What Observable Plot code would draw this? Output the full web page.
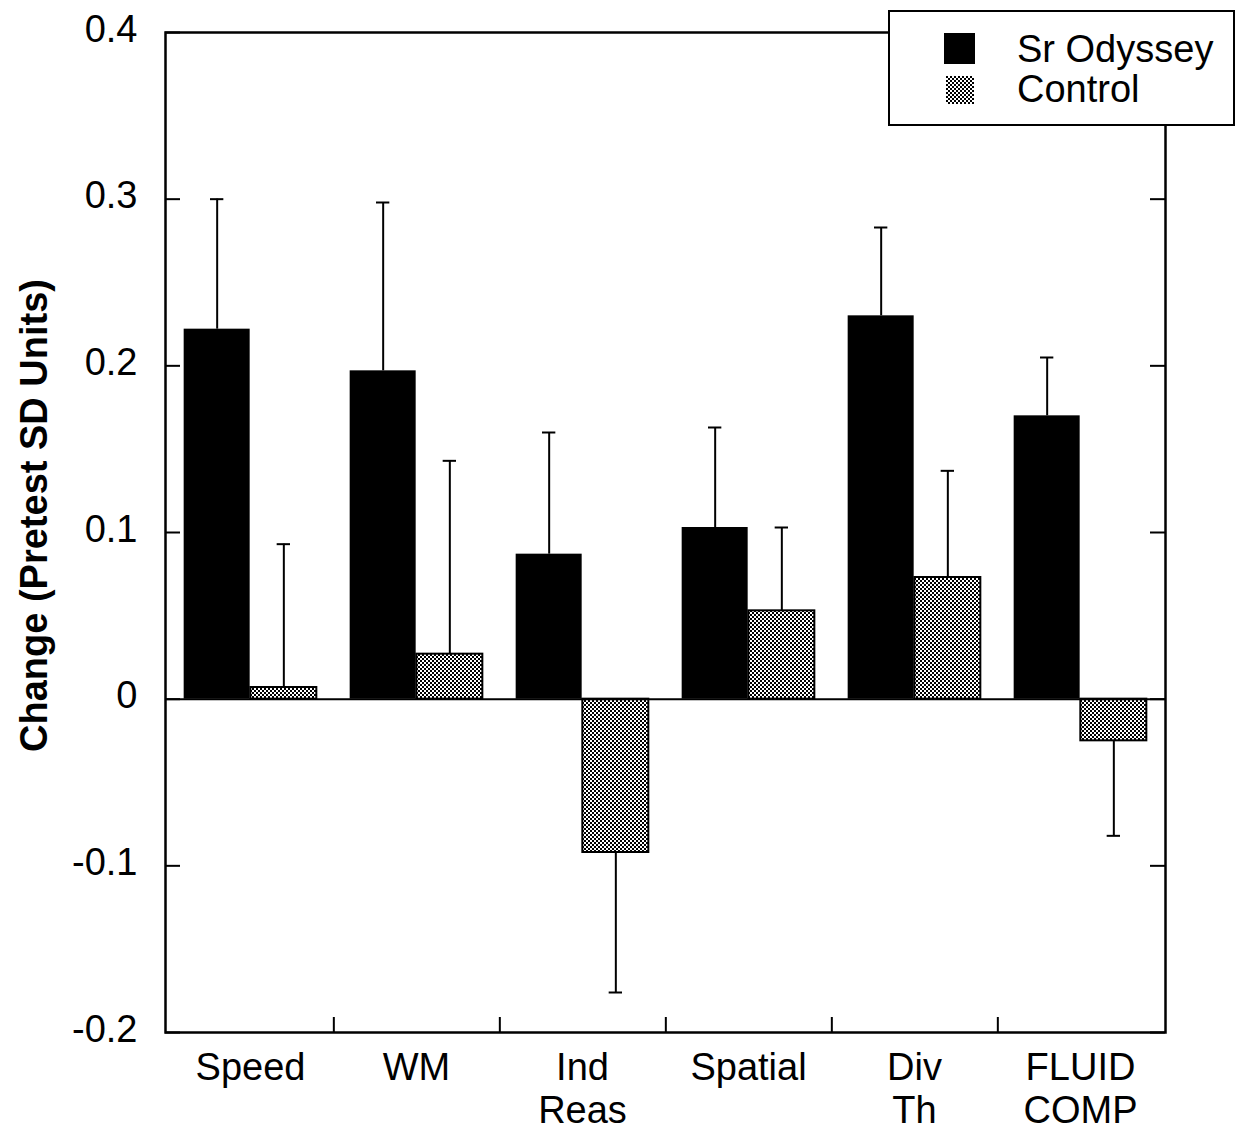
<!DOCTYPE html>
<html>
<head>
<meta charset="utf-8">
<script src="https://cdn.jsdelivr.net/npm/d3@7"></script>
<script src="https://cdn.jsdelivr.net/npm/@observablehq/plot@0.6"></script>
<style>
  html, body { margin: 0; padding: 0; background: #fff; }
  #wrap { position: relative; width: 1240px; height: 1131px; font-family: "Liberation Sans", Arial, sans-serif; }
  #legend { position: absolute; left: 888px; top: 10px; width: 343px; height: 112px; border: 2.5px solid #000; background: #fff; }
  .row { position: absolute; left: 0; font-size: 38px; line-height: 1; }
  .sw { position: absolute; }
  .lbl { position: absolute; left: 127px; white-space: nowrap; }
</style>
</head>
<body>
<div id="wrap"></div>
<script>
// ---- data ----
const categories = ["Speed", "WM", "Ind Reas", "Spatial", "Div Th", "FLUID COMP"];
const categoryLabels = ["Speed", "WM", "Ind\nReas", "Spatial", "Div\nTh", "FLUID\nCOMP"];
const series = ["Sr Odyssey", "Control"];
const odysseyMeans = [0.222, 0.197, 0.087, 0.103, 0.230, 0.170];
const odysseyErrors = [0.300, 0.298, 0.160, 0.163, 0.283, 0.205];
const controlMeans = [0.007, 0.027, -0.092, 0.053, 0.073, -0.025];
const controlErrors = [0.093, 0.143, -0.176, 0.103, 0.137, -0.082];
const yTicks = [-0.2, -0.1, 0, 0.1, 0.2, 0.3, 0.4];
const yLabel = "Change (Pretest SD Units)";

const odyssey = categories.map((c, i) => ({cat: c, series: series[0], value: odysseyMeans[i], err: odysseyErrors[i]}));
const control = categories.map((c, i) => ({cat: c, series: series[1], value: controlMeans[i], err: controlErrors[i]}));

const W = 1240, H = 1131;
const mL = 165, mR = 75, mT = 32, mB = 99;
const innerW = W - mL - mR;
const band = innerW / categories.length;
const barW = band * 0.4;
const pad = band * 0.1;
const capW = 14;
const fontFam = '"Liberation Sans", Arial, sans-serif';

const chart = Plot.plot({
  width: W,
  height: H,
  marginLeft: mL,
  marginRight: mR,
  marginTop: mT,
  marginBottom: mB,
  style: {fontFamily: fontFam, background: "#fff", color: "#000"},
  x: {domain: categories, padding: 0, axis: null},
  y: {domain: [-0.2, 0.4], axis: null},
  marks: [
    // bars
    Plot.barY(odyssey, {x: "cat", y: "value", fill: "#000", insetLeft: pad, insetRight: band - pad - barW}),
    Plot.barY(control, {x: "cat", y: "value", fill: "url(#checker)", stroke: "#000", strokeWidth: 2, insetLeft: pad + barW, insetRight: pad}),
    // error bars
    Plot.ruleX(odyssey, {x: "cat", y1: "value", y2: "err", dx: -barW / 2, stroke: "#000", strokeWidth: 2}),
    Plot.ruleX(control, {x: "cat", y1: "value", y2: "err", dx: barW / 2, stroke: "#000", strokeWidth: 2}),
    Plot.tickY(odyssey, {x: "cat", y: "err", stroke: "#000", strokeWidth: 2,
      insetLeft: pad + barW / 2 - capW / 2, insetRight: band - pad - barW / 2 - capW / 2}),
    Plot.tickY(control, {x: "cat", y: "err", stroke: "#000", strokeWidth: 2,
      insetLeft: pad + barW * 1.5 - capW / 2, insetRight: band - pad - barW * 1.5 - capW / 2}),
    // zero line
    Plot.ruleY([0], {stroke: "#000", strokeWidth: 2}),
    // inward ticks, left and right
    Plot.ruleY(yTicks, {stroke: "#000", strokeWidth: 2, insetRight: innerW - 15}),
    Plot.ruleY(yTicks, {stroke: "#000", strokeWidth: 2, insetLeft: innerW - 15}),
    // category boundary ticks on bottom
    Plot.ruleX(categories.slice(0, -1), {stroke: "#000", strokeWidth: 2, dx: band / 2, insetTop: (H - mT - mB) - 15}),
    // frame
    Plot.frame({stroke: "#000", strokeWidth: 2.5}),
    // y tick labels
    Plot.axisY(yTicks, {anchor: "left", tickSize: 0, tickPadding: 28, fontSize: 38, dy: -3,
      tickFormat: d => d === 0 ? "0" : d3.format(".1f")(d).replace("−", "-"), label: null}),
    // x labels
    Plot.axisX(categories, {anchor: "bottom", tickSize: 0, tickPadding: 17, fontSize: 38, lineHeight: 1.13,
      tickFormat: (d) => categoryLabels[categories.indexOf(d)], label: null}),
    // y title
    Plot.text([yLabel], {frameAnchor: "left", textAnchor: "middle", rotate: -90, dx: -131, dy: -17, fontSize: 38, fontWeight: "bold", text: d => d})
  ]
});

// checker pattern
const ns = "http://www.w3.org/2000/svg";
const defs = document.createElementNS(ns, "defs");
defs.innerHTML = '<pattern id="checker" width="4" height="4" patternUnits="userSpaceOnUse">' +
  '<rect width="4" height="4" fill="#fff"/><rect width="2" height="2" fill="#000"/><rect x="2" y="2" width="2" height="2" fill="#000"/></pattern>';
chart.insertBefore(defs, chart.firstChild);

const wrap = document.getElementById("wrap");
wrap.appendChild(chart);

// legend
const legend = document.createElement("div");
legend.id = "legend";
const swatches = [
  {name: series[0], fill: "#000", x: 54, y: 21, s: 31},
  {name: series[1], fill: "url(#checker)", x: 56, y: 64, s: 28}
];
swatches.forEach((d, i) => {
  const svg = document.createElementNS(ns, "svg");
  svg.setAttribute("class", "sw");
  svg.setAttribute("width", d.s);
  svg.setAttribute("height", d.s);
  svg.style.left = d.x + "px";
  svg.style.top = d.y + "px";
  svg.innerHTML = `<rect width="${d.s}" height="${d.s}" fill="${d.fill}"/>`;
  legend.appendChild(svg);
  const t = document.createElement("div");
  t.className = "row lbl";
  t.textContent = d.name;
  t.style.top = (i === 0 ? 18 : 58) + "px";
  legend.appendChild(t);
});
wrap.appendChild(legend);
</script>
</body>
</html>
